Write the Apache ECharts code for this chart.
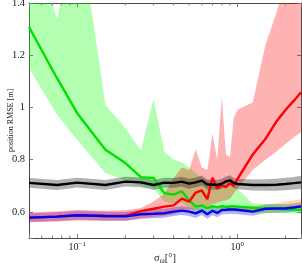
<!DOCTYPE html>
<html><head><meta charset="utf-8">
<script src="https://cdn.jsdelivr.net/npm/echarts@6/dist/echarts.min.js"></script>
<style>html,body{margin:0;padding:0;background:#fff}#c{width:302px;height:263px}</style>
</head><body><div id="c"></div>
<script>
// x sample points (sigma_omega in degrees)
const xs = [0.05, 0.075, 0.1, 0.15, 0.2, 0.25, 0.3, 0.35, 0.4, 0.45, 0.5, 0.55, 0.6, 0.65, 0.7, 0.75, 0.8, 0.85, 0.9, 0.95, 1.0, 1.25, 1.5, 1.75, 2.0, 2.25, 2.5];

const greenMean = [1.308, 1.111, 0.978, 0.838, 0.787, 0.733, 0.730, 0.672, 0.666, 0.679, 0.645, 0.620, 0.625, 0.614, 0.622, 0.617, 0.622, 0.618, 0.620, 0.622, 0.620, 0.616, 0.612, 0.613, 0.610, 0.608, 0.607];
const greenLow  = [1.150, 0.971, 0.876, 0.749, 0.720, 0.700, 0.690, 0.640, 0.630, 0.635, 0.615, 0.600, 0.605, 0.600, 0.605, 0.600, 0.602, 0.600, 0.600, 0.600, 0.600, 0.597, 0.596, 0.596, 0.595, 0.595, 0.595];
const greenHigh = [1.700, 1.338, 1.750, 1.010, 0.920, 0.835, 1.032, 0.830, 0.800, 0.790, 0.770, 0.750, 0.730, 0.720, 0.710, 0.700, 0.700, 0.700, 0.700, 0.700, 0.690, 0.632, 0.630, 0.630, 0.627, 0.625, 0.625];

const redMean = [0.578, 0.582, 0.587, 0.584, 0.585, 0.603, 0.612, 0.620, 0.625, 0.651, 0.639, 0.674, 0.682, 0.649, 0.731, 0.690, 0.702, 0.695, 0.710, 0.700, 0.725, 0.820, 0.880, 0.945, 0.990, 1.025, 1.058];
const redLow  = [0.560, 0.563, 0.567, 0.565, 0.566, 0.575, 0.580, 0.585, 0.590, 0.600, 0.610, 0.610, 0.620, 0.620, 0.630, 0.635, 0.640, 0.645, 0.650, 0.670, 0.690, 0.760, 0.800, 0.830, 0.860, 0.885, 0.905];
const redHigh = [0.598, 0.602, 0.607, 0.604, 0.606, 0.615, 0.640, 0.670, 0.730, 0.770, 0.760, 0.840, 0.770, 0.760, 0.900, 0.800, 1.040, 0.820, 0.810, 0.960, 0.990, 1.020, 1.240, 1.360, 1.480, 1.580, 1.680];

const blackMean = [0.711, 0.703, 0.712, 0.703, 0.716, 0.713, 0.703, 0.712, 0.711, 0.716, 0.708, 0.713, 0.720, 0.705, 0.705, 0.703, 0.708, 0.717, 0.721, 0.711, 0.707, 0.703, 0.703, 0.704, 0.707, 0.710, 0.713];
const blackLow  = [0.692, 0.684, 0.693, 0.684, 0.697, 0.694, 0.684, 0.693, 0.692, 0.697, 0.689, 0.694, 0.701, 0.686, 0.686, 0.684, 0.689, 0.698, 0.702, 0.692, 0.687, 0.682, 0.681, 0.681, 0.683, 0.686, 0.688];
const blackHigh = [0.730, 0.722, 0.731, 0.722, 0.735, 0.732, 0.722, 0.731, 0.730, 0.735, 0.727, 0.732, 0.739, 0.724, 0.724, 0.722, 0.727, 0.736, 0.740, 0.730, 0.727, 0.724, 0.725, 0.727, 0.731, 0.734, 0.738];

const blueMean = [0.578, 0.582, 0.587, 0.584, 0.583, 0.591, 0.593, 0.595, 0.601, 0.605, 0.601, 0.594, 0.605, 0.591, 0.604, 0.596, 0.607, 0.608, 0.609, 0.609, 0.608, 0.601, 0.612, 0.613, 0.613, 0.617, 0.621];
const blueLow  = [0.561, 0.565, 0.570, 0.567, 0.566, 0.574, 0.576, 0.578, 0.584, 0.588, 0.584, 0.577, 0.588, 0.574, 0.587, 0.579, 0.590, 0.591, 0.592, 0.592, 0.591, 0.585, 0.596, 0.597, 0.597, 0.601, 0.605];
const blueHigh = [0.595, 0.599, 0.604, 0.601, 0.600, 0.608, 0.610, 0.612, 0.618, 0.622, 0.618, 0.611, 0.622, 0.608, 0.621, 0.613, 0.624, 0.625, 0.626, 0.626, 0.625, 0.617, 0.628, 0.629, 0.629, 0.633, 0.637];

const orangeMean = [0.578, 0.582, 0.587, 0.584, 0.583, 0.591, 0.593, 0.595, 0.601, 0.605, 0.601, 0.594, 0.605, 0.591, 0.604, 0.596, 0.607, 0.608, 0.609, 0.609, 0.608, 0.603, 0.612, 0.614, 0.615, 0.618, 0.621];
const orangeLow  = [0.574, 0.578, 0.583, 0.580, 0.579, 0.587, 0.589, 0.591, 0.597, 0.601, 0.597, 0.590, 0.601, 0.587, 0.600, 0.592, 0.603, 0.604, 0.605, 0.605, 0.600, 0.596, 0.598, 0.600, 0.602, 0.604, 0.606];
const orangeHigh = [0.582, 0.586, 0.591, 0.588, 0.587, 0.595, 0.597, 0.599, 0.605, 0.609, 0.605, 0.598, 0.609, 0.595, 0.608, 0.600, 0.611, 0.612, 0.613, 0.613, 0.616, 0.622, 0.627, 0.633, 0.640, 0.645, 0.648];

const xMin = 0.05, xMax = 2.5, yMin = 0.5, yMax = 1.4;
const xMinorTicks = [0.06, 0.07, 0.08, 0.09, 0.2, 0.3, 0.4, 0.5, 0.6, 0.7, 0.8, 0.9, 2];

const FONT = 'Liberation Serif';
const pts = (arr) => xs.map((x, i) => [x, arr[i]]);

// shaded band between lo and hi, drawn as one polygon through the axes' scales
function band(lo, hi, color) {
  return {
    type: 'custom', silent: true, clip: true, z: 1,
    data: [[xs[0], lo[0]]], encode: {x: 0, y: 1},
    renderItem: function (params, api) {
      const upper = xs.map((x, i) => api.coord([x, hi[i]]));
      const lower = xs.map((x, i) => api.coord([x, lo[i]])).reverse();
      return {type: 'polygon', shape: {points: upper.concat(lower)},
              style: {fill: color, opacity: 0.3}};
    }
  };
}
function line(arr, color) {
  return {type: 'line', data: pts(arr), symbol: 'none', lineStyle: {color: color, width: 2.4}, silent: true, z: 3};
}
const tickCol = '#7a7a7a';
const minorSeries = {
  type: 'custom', silent: true, clip: false, z: 5,
  data: xMinorTicks.map(v => [v, yMin]),
  encode: {x: 0, y: 1},
  renderItem: function (params, api) {
    const x = api.value(0);
    const b = api.coord([x, yMin]);
    const t = api.coord([x, yMax]);
    return {type: 'group', children: [
      {type: 'line', shape: {x1: b[0], y1: b[1], x2: b[0], y2: b[1] - 2.5}, style: {stroke: tickCol, lineWidth: 1}},
      {type: 'line', shape: {x1: t[0], y1: t[1], x2: t[0], y2: t[1] + 2.5}, style: {stroke: tickCol, lineWidth: 1}}
    ]};
  }
};

const xLabelFmt = function (v) {
  const l = Math.log10(v), e = Math.round(l);
  if (Math.abs(l - e) > 1e-6) return '';
  return '{b|10}{s|' + (e < 0 ? '\u2212' + (-e) : e) + '}';
};
const axisLineStyle = {color: '#4a4a4a', width: 1};

const chart = echarts.init(document.getElementById('c'), null, {renderer: 'canvas'});
chart.setOption({
  animation: false,
  backgroundColor: '#fff',
  grid: {left: 29, right: 1, top: 3, bottom: 25, containLabel: false, outerBoundsMode: 'none'},
  xAxis: [
    {type: 'log', logBase: 10, min: xMin, max: xMax, position: 'bottom',
     axisLine: {show: true, onZero: false, lineStyle: axisLineStyle},
     axisTick: {show: true, inside: true, length: 4, lineStyle: {color: tickCol}},
     splitLine: {show: false},
     axisLabel: {formatter: xLabelFmt, margin: 3, showMinLabel: true, showMaxLabel: true,
       rich: {b: {fontFamily: FONT, fontSize: 10, color: '#222', lineHeight: 13},
              s: {fontFamily: FONT, fontSize: 7, color: '#222', verticalAlign: 'top'}}},
     name: '{a|σ}{sub|ω}{a|[°]}', nameLocation: 'middle', nameGap: 13, nameMoveOverlap: false,
     nameTextStyle: {rich: {
       a: {fontFamily: FONT, fontSize: 10.5, color: '#222', lineHeight: 14},
       sub: {fontFamily: FONT, fontSize: 7.5, color: '#222', verticalAlign: 'bottom'}}}},
    {type: 'log', logBase: 10, min: xMin, max: xMax, position: 'top',
     axisLine: {show: true, onZero: false, lineStyle: axisLineStyle},
     axisTick: {show: true, inside: true, length: 4, lineStyle: {color: tickCol}},
     splitLine: {show: false}, axisLabel: {show: false}}
  ],
  yAxis: [
    {type: 'value', min: yMin, max: yMax, splitNumber: 5, position: 'left',
     axisLine: {show: true, onZero: false, lineStyle: axisLineStyle},
     axisTick: {show: true, inside: true, length: 4, lineStyle: {color: tickCol}},
     splitLine: {show: false},
     axisLabel: {margin: 4, fontFamily: FONT, fontSize: 10.5, color: '#222',
       formatter: v => (Math.abs(v - yMin) < 1e-9 ? '' : String(+v.toFixed(2)))},
     name: 'position RMSE [m]', nameLocation: 'middle', nameGap: 14, nameRotate: 90, nameMoveOverlap: false,
     nameTextStyle: {fontFamily: FONT, fontSize: 8, color: '#222'}},
    {type: 'value', min: yMin, max: yMax, splitNumber: 5, position: 'right',
     axisLine: {show: true, onZero: false, lineStyle: axisLineStyle},
     axisTick: {show: true, inside: true, length: 4, lineStyle: {color: tickCol}},
     splitLine: {show: false}, axisLabel: {show: false}}
  ],
  series: [
    band(blueLow, blueHigh, '#0000ff'),
    band(orangeLow, orangeHigh, '#ff8000'),
    band(greenLow, greenHigh, '#00ff00'),
    band(redLow, redHigh, '#ff0000'),
    band(blackLow, blackHigh, '#000000'),
    line(orangeMean, '#ff8000'), line(greenMean, '#00e000'), line(redMean, '#ff0000'),
    line(blackMean, '#000000'), line(blueMean, '#0000ff'), minorSeries
  ]
});
</script></body></html>
